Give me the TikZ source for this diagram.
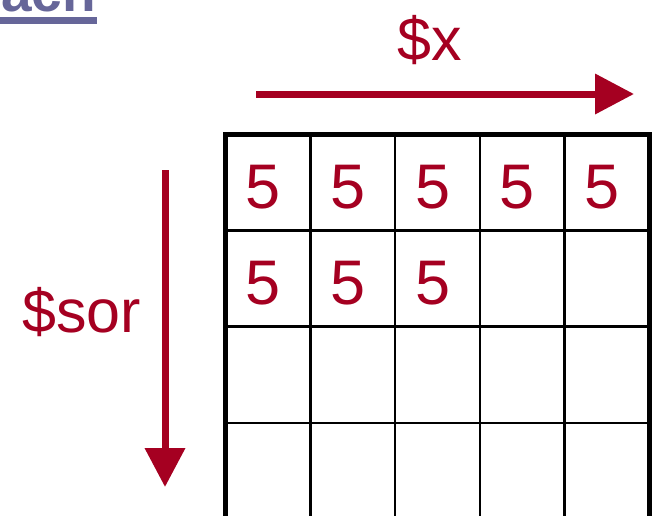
\documentclass[tikz,border=0pt]{standalone}
\usepackage{fontspec}
\setmainfont{Liberation Sans}
\usepackage{xcolor}
\usetikzlibrary{arrows.meta}

\definecolor{loopred}{HTML}{A50021}
\definecolor{slidetitle}{HTML}{666699}

\tikzset{
  cellline/.style={line width=2.6pt, black},
  frameline/.style={line width=5pt, black},
  digit/.style={text=loopred, inner sep=0pt, anchor=base, font=\fontsize{63}{70}\selectfont},
  looplabel/.style={text=loopred, inner sep=0pt, font=\fontsize{61}{68}\selectfont},
  looparrow/.style={draw=loopred, line width=7pt, -{Triangle[length=39pt, width=39pt]}},
}

\begin{document}
\begin{tikzpicture}[x=1pt, y=-1pt]
			\useasboundingbox (0,0) rectangle (654,515);
			\clip (0,0) rectangle (654,515);
			% cut-off slide title
			\node[text=slidetitle, inner sep=0pt, anchor=base east, font=\fontsize{55}{60}\selectfont\bfseries] (title) at (96,11) {ach};
			\draw[slidetitle, line width=7pt] (0,20.4) -- (97,20.4);
			% grid cells
			\foreach \c in {0,...,4}{
				\foreach \r in {0,...,3}{
					\draw[cellline] (225.5+\c*84.8, 134+\r*96.3) rectangle ++(84.8, 96.3);
				}
			}
			\draw[frameline] (225.5,520) -- (225.5,134) -- (649.6,134) -- (649.6,520);
			% values
			\foreach \r/\c in {0/0, 0/1, 0/2, 0/3, 0/4, 1/0, 1/1, 1/2}{
				\node[digit] (v\r\c) at (263+\c*84.8, 208+\r*96.3) {5};
			}
			% loop directions
			\node[looplabel, anchor=base] (xlab) at (430,60) {\$x};
			\node[looplabel, anchor=base east] (sorlab) at (141,332) {\$sor};
			\coordinate (xstart) at (256,94);
			\coordinate (xend) at (634,94);
			\coordinate (sorstart) at (165,170);
			\coordinate (sorend) at (165,487);
			\draw[looparrow] (xstart) -- (xend);
			\draw[looparrow] (sorstart) -- (sorend);
		\end{tikzpicture}
\end{document}
